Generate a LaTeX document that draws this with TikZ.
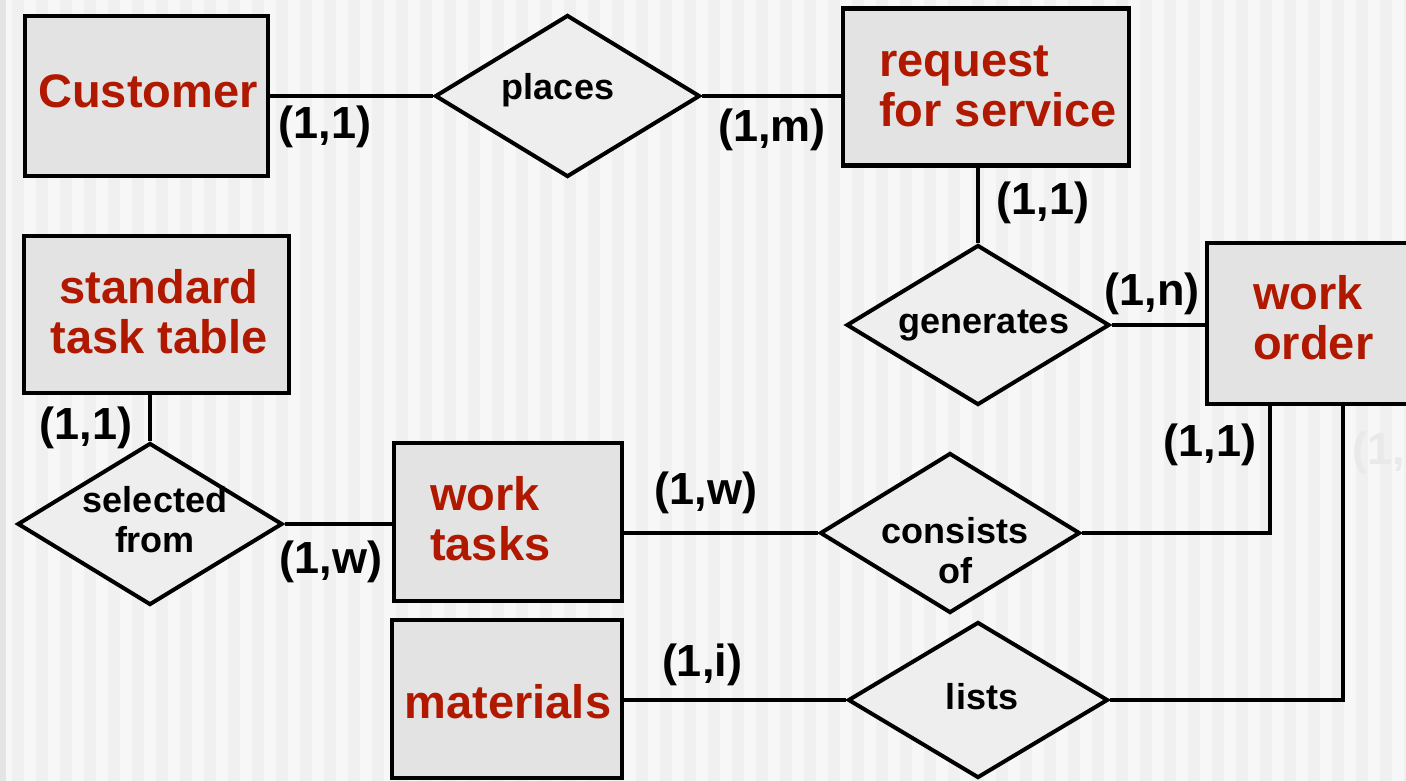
\documentclass[tikz,border=0pt]{standalone}
\usepackage{fontspec}
\setmainfont{Liberation Sans}
\usetikzlibrary{shapes.geometric,calc}
\definecolor{boxfill}{HTML}{E3E3E3}
\definecolor{relfill}{HTML}{EEEEEE}
\definecolor{ered}{RGB}{176,24,0}
\definecolor{bglight}{HTML}{F7F7F7}
\definecolor{bgdark}{HTML}{F0F0F0}
\definecolor{bgedge}{HTML}{E4E4E4}
\definecolor{ghost}{HTML}{E9E9E9}
\tikzset{
  entity/.style={draw=black, line width=4.5pt, fill=boxfill, rectangle, inner sep=0pt},
  rel/.style={draw=black, line width=4pt, fill=relfill, diamond, inner sep=0pt},
  reltext/.style={font=\fontsize{36}{40}\selectfont\bfseries, align=center, inner sep=0pt},
  etext/.style={text=ered, font=\fontsize{47}{50}\selectfont\bfseries, inner sep=0pt},
  card/.style={font=\fontsize{45}{50}\selectfont\bfseries, inner sep=0pt},
  conn/.style={line width=4pt},
}
\begin{document}
\begin{tikzpicture}[x=1pt,y=-1pt]
\useasboundingbox (0,0) rectangle (1406,781);
\clip (0,0) rectangle (1406,781);
% background
\fill[bglight] (0,0) rectangle (1406,781);
\foreach \i in {0,...,58} \fill[bgdark] (\i*24+12,0) rectangle ++(12,781);
\fill[bgedge] (0,0) rectangle (6,781);

% entities
\node[entity, minimum width=243pt, minimum height=160pt] (cust) at (146.5,96) {};
\node[etext] (custt) at (148,91) {Customer};
\node[entity, minimum width=286pt, minimum height=157pt] (req) at (986,87) {};
\node[etext, anchor=west, align=left] (reqt) at (879,86) {request\\for service};
\node[entity, minimum width=260pt, minimum height=161pt] (wo) at (1337,323.5) {};
\node[etext, anchor=west, align=left] (wot) at (1253,318) {work\\order};
\node[entity, minimum width=265pt, minimum height=157pt] (stt) at (156.5,314.5) {};
\node[etext, align=center] (sttt) at (159,312) {standard\\task table};
\node[entity, minimum width=228pt, minimum height=158pt] (wt) at (508,522) {};
\node[etext, anchor=west, align=left] (wtt) at (430,519) {work\\tasks};
\node[entity, minimum width=230pt, minimum height=158pt] (mat) at (507,699) {};
\node[etext] (matt) at (508,702) {materials};

% relationships
\node[rel, minimum width=265pt, minimum height=162pt] (places) at (567.5,96) {};
\node[reltext] (placest) at (558,90) {places};
\node[rel, minimum width=263pt, minimum height=160pt] (gen) at (978,325) {};
\node[reltext] (gent) at (984,326) {generates};
\node[rel, minimum width=265pt, minimum height=162pt] (sel) at (150,524) {};
\node[reltext] (selt) at (155,520) {selected\\from};
\node[rel, minimum width=260pt, minimum height=160pt] (cons) at (950,533) {};
\node[reltext] (const) at (955,551) {consists\\of};
\node[rel, minimum width=260pt, minimum height=156pt] (lists) at (978,700) {};
\node[reltext] (listst) at (982,697) {lists};

% connectors
\coordinate (wo1) at ($(wo.south west)+(65,0)$);
\coordinate (wo2) at ($(wo.south west)+(138,0)$);
\draw[conn] (cust) -- (places);
\draw[conn] (places.east) -- (places.east -| req.west);
\draw[conn] (gen.north) -- (gen.north |- req.south);
\draw[conn] (gen.east) -- (gen.east -| wo.west);
\draw[conn] (sel.north) -- (sel.north |- stt.south);
\draw[conn] (sel.east) -- (sel.east -| wt.west);
\draw[conn] (cons.west) -- (cons.west -| wt.east);
\draw[conn] (lists.west) -- (lists.west -| mat.east);
\draw[conn] (cons.east) -| (wo1);
\draw[conn] (lists.east) -| (wo2);

% cardinalities
\node[card] (c1) at (325,127) {(1,1)};
\node[card] (c2) at (772,130) {(1,m)};
\node[card] (c3) at (1043,203) {(1,1)};
\node[card] (c4) at (1152,294) {(1,n)};
\node[card] (c5) at (1210,445) {(1,1)};
\node[card] (c6) at (86,428) {(1,1)};
\node[card] (c7) at (331,562) {(1,w)};
\node[card] (c8) at (706,493) {(1,w)};
\node[card] (c9) at (702,665) {(1,i)};
\node[card, text=ghost, anchor=west] (c10) at (1352,453) {(1,};
\end{tikzpicture}
\end{document}
